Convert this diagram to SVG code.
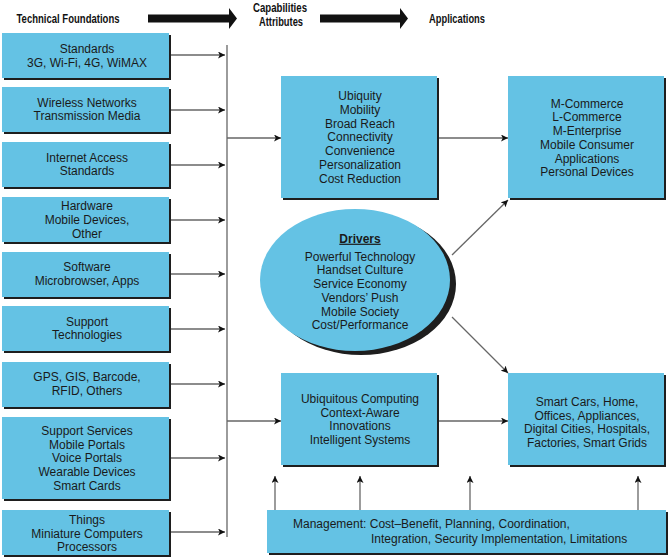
<svg xmlns="http://www.w3.org/2000/svg" width="671" height="559" viewBox="0 0 671 559">
<style>
.bx{fill:#64c2e4}
.sh{fill:#1e1e1e}
.t{font-family:"Liberation Sans",Arial,sans-serif;font-size:12px;fill:#1a1a1a;text-anchor:middle}
.h{font-family:"Liberation Sans",Arial,sans-serif;font-size:13.5px;font-weight:bold;fill:#111;text-anchor:middle}
.h2{font-size:12.5px}
.c{stroke:#666;stroke-width:1.3;fill:none}
</style>
<defs>
<marker id="ah" viewBox="0 0 10 10" refX="10" refY="5" markerWidth="7" markerHeight="7" markerUnits="userSpaceOnUse" orient="auto">
<path d="M0,0 L10,5 L0,10 L2.5,5 z" fill="#111"/>
</marker>
</defs>

<g id="headers">
<text class="h" x="68" y="22.5" textLength="103" lengthAdjust="spacingAndGlyphs">Technical Foundations</text>
<polygon points="148,14.5 229,14.5 229,8 237,18.5 229,29 229,22.5 148,22.5" fill="#111"/>
<text class="h h2" x="280" y="11.5" textLength="54" lengthAdjust="spacingAndGlyphs">Capabilities</text>
<text class="h h2" x="281" y="25.5" textLength="44" lengthAdjust="spacingAndGlyphs">Attributes</text>
<polygon points="320,14.5 400,14.5 400,8 408,18.5 400,29 400,22.5 320,22.5" fill="#111"/>
<text class="h" x="457" y="22.5" textLength="56" lengthAdjust="spacingAndGlyphs">Applications</text>
</g>

<g id="connectors">
<line class="c" x1="227" y1="45" x2="227" y2="537"/>
<line class="c" x1="171" y1="55" x2="225" y2="55" marker-end="url(#ah)"/>
<line class="c" x1="171" y1="110" x2="225" y2="110" marker-end="url(#ah)"/>
<line class="c" x1="171" y1="165" x2="225" y2="165" marker-end="url(#ah)"/>
<line class="c" x1="171" y1="220" x2="225" y2="220" marker-end="url(#ah)"/>
<line class="c" x1="171" y1="274" x2="225" y2="274" marker-end="url(#ah)"/>
<line class="c" x1="171" y1="329" x2="225" y2="329" marker-end="url(#ah)"/>
<line class="c" x1="171" y1="384" x2="225" y2="384" marker-end="url(#ah)"/>
<line class="c" x1="171" y1="458" x2="225" y2="458" marker-end="url(#ah)"/>
<line class="c" x1="171" y1="532" x2="225" y2="532" marker-end="url(#ah)"/>
<line class="c" x1="227" y1="138" x2="281" y2="138" marker-end="url(#ah)"/>
<line class="c" x1="227" y1="421" x2="281" y2="421" marker-end="url(#ah)"/>
<line class="c" x1="439" y1="138" x2="508" y2="138" marker-end="url(#ah)"/>
<line class="c" x1="439" y1="421" x2="508" y2="421" marker-end="url(#ah)"/>
<line class="c" x1="452" y1="255" x2="508" y2="200" marker-end="url(#ah)"/>
<line class="c" x1="452" y1="317" x2="508" y2="373" marker-end="url(#ah)"/>
<line class="c" x1="275" y1="510" x2="275" y2="476" marker-end="url(#ah)"/>
<line class="c" x1="360" y1="510" x2="360" y2="476" marker-end="url(#ah)"/>
<line class="c" x1="470" y1="510" x2="470" y2="476" marker-end="url(#ah)"/>
<line class="c" x1="638" y1="510" x2="638" y2="476" marker-end="url(#ah)"/>
</g>

<g id="tf1"><rect class="sh" x="4" y="35" width="167" height="45"/><rect class="bx" x="2" y="33" width="167" height="45"/>
<text class="t" x="87" y="52.7">Standards</text><text class="t" x="87" y="66.5">3G, Wi-Fi, 4G, WiMAX</text></g>
<g id="tf2"><rect class="sh" x="4" y="89" width="167" height="45"/><rect class="bx" x="2" y="87" width="167" height="45"/>
<text class="t" x="87" y="106.5">Wireless Networks</text><text class="t" x="87" y="120.3">Transmission Media</text></g>
<g id="tf3"><rect class="sh" x="4" y="144" width="167" height="45"/><rect class="bx" x="2" y="142" width="167" height="45"/>
<text class="t" x="87" y="161.5">Internet Access</text><text class="t" x="87" y="175.3">Standards</text></g>
<g id="tf4"><rect class="sh" x="4" y="199" width="167" height="45"/><rect class="bx" x="2" y="197" width="167" height="45"/>
<text class="t" x="87" y="210">Hardware</text><text class="t" x="87" y="224">Mobile Devices,</text><text class="t" x="87" y="238">Other</text></g>
<g id="tf5"><rect class="sh" x="4" y="254" width="167" height="45"/><rect class="bx" x="2" y="252" width="167" height="45"/>
<text class="t" x="87" y="271">Software</text><text class="t" x="87" y="284.8">Microbrowser, Apps</text></g>
<g id="tf6"><rect class="sh" x="4" y="308" width="167" height="45"/><rect class="bx" x="2" y="306" width="167" height="45"/>
<text class="t" x="87" y="325.5">Support</text><text class="t" x="87" y="339.3">Technologies</text></g>
<g id="tf7"><rect class="sh" x="4" y="364" width="167" height="45"/><rect class="bx" x="2" y="362" width="167" height="45"/>
<text class="t" x="87" y="381">GPS, GIS, Barcode,</text><text class="t" x="87" y="394.8">RFID, Others</text></g>
<g id="tf8"><rect class="sh" x="4" y="419" width="167" height="82"/><rect class="bx" x="2" y="417" width="167" height="82"/>
<text class="t" x="87" y="435">Support Services</text><text class="t" x="87" y="448.7">Mobile Portals</text><text class="t" x="87" y="462.4">Voice Portals</text><text class="t" x="87" y="476.1">Wearable Devices</text><text class="t" x="87" y="489.8">Smart Cards</text></g>
<g id="tf9"><rect class="sh" x="4" y="512" width="167" height="45"/><rect class="bx" x="2" y="510" width="167" height="45"/>
<text class="t" x="87" y="524">Things</text><text class="t" x="87" y="537.7">Miniature Computers</text><text class="t" x="87" y="551.4">Processors</text></g>

<g id="capabilities"><rect class="sh" x="283" y="78" width="156" height="122"/><rect class="bx" x="281" y="76" width="156" height="122"/>
<text class="t" x="360" y="100">Ubiquity</text><text class="t" x="360" y="113.8">Mobility</text><text class="t" x="360" y="127.6">Broad Reach</text><text class="t" x="360" y="141.4">Connectivity</text><text class="t" x="360" y="155.2">Convenience</text><text class="t" x="360" y="169">Personalization</text><text class="t" x="360" y="182.8">Cost Reduction</text></g>

<g id="applications"><rect class="sh" x="510" y="78" width="156" height="122"/><rect class="bx" x="508" y="76" width="156" height="122"/>
<text class="t" x="587" y="107.7">M-Commerce</text><text class="t" x="587" y="121.4">L-Commerce</text><text class="t" x="587" y="135.1">M-Enterprise</text><text class="t" x="587" y="148.8">Mobile Consumer</text><text class="t" x="587" y="162.5">Applications</text><text class="t" x="587" y="176.2">Personal Devices</text></g>

<g id="drivers"><ellipse class="sh" cx="361" cy="284" rx="95" ry="71"/><ellipse class="bx" cx="355" cy="280" rx="95" ry="71"/>
<text class="t" x="360" y="242.7" style="font-weight:bold;text-decoration:underline">Drivers</text>
<text class="t" x="360" y="260.7">Powerful Technology</text><text class="t" x="360" y="274.4">Handset Culture</text><text class="t" x="360" y="288.1">Service Economy</text><text class="t" x="360" y="301.8">Vendors’ Push</text><text class="t" x="360" y="315.5">Mobile Society</text><text class="t" x="360" y="329.2">Cost/Performance</text></g>

<g id="ubiquitous"><rect class="sh" x="283" y="375" width="156" height="92"/><rect class="bx" x="281" y="373" width="156" height="92"/>
<text class="t" x="360" y="403">Ubiquitous Computing</text><text class="t" x="360" y="416.7">Context-Aware</text><text class="t" x="360" y="430.4">Innovations</text><text class="t" x="360" y="444.1">Intelligent Systems</text></g>

<g id="smart"><rect class="sh" x="510" y="375" width="156" height="92"/><rect class="bx" x="508" y="373" width="156" height="92"/>
<text class="t" x="587" y="406">Smart Cars, Home,</text><text class="t" x="587" y="419.6">Offices, Appliances,</text><text class="t" x="587" y="433.2">Digital Cities, Hospitals,</text><text class="t" x="587" y="446.8">Factories, Smart Grids</text></g>

<g id="management"><rect class="sh" x="269" y="512" width="399" height="43"/><rect class="bx" x="267" y="510" width="399" height="43"/>
<text class="t" x="293" y="528" style="text-anchor:start">Management: Cost–Benefit, Planning, Coordination,</text>
<text class="t" x="371" y="542.5" style="text-anchor:start">Integration, Security Implementation, Limitations</text></g>
</svg>
